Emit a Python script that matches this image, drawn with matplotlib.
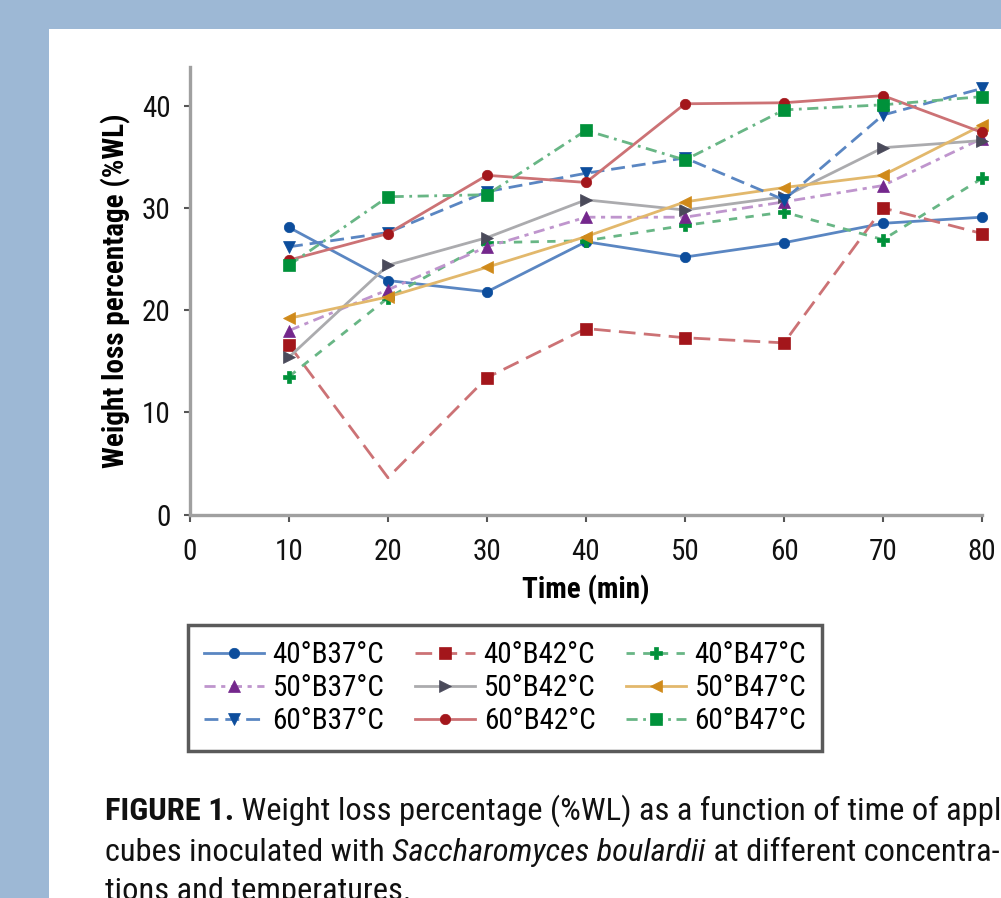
import matplotlib
matplotlib.use("Agg")
import matplotlib.pyplot as plt
from matplotlib.patches import Rectangle
from matplotlib import font_manager as fm

time_min = [10, 20, 30, 40, 50, 60, 70, 80]
x_ticks = [0, 10, 20, 30, 40, 50, 60, 70, 80]
y_ticks = [0, 10, 20, 30, 40]

s40B37 = [28.1, 22.9, 21.8, 26.7, 25.2, 26.6, 28.5, 29.1]
s40B42 = [16.6, 3.6, 13.4, 18.2, 17.3, 16.8, 30.0, 27.5]
s40B47 = [13.5, 21.2, 26.6, 26.8, 28.3, 29.6, 26.9, 32.9]
s50B37 = [18.0, 22.0, 26.2, 29.1, 29.1, 30.6, 32.2, 36.8]
s50B42 = [15.4, 24.4, 27.1, 30.8, 29.8, 31.1, 35.9, 36.6]
s50B47 = [19.2, 21.3, 24.2, 27.2, 30.6, 32.0, 33.2, 38.1]
s60B37 = [26.2, 27.6, 31.6, 33.4, 34.9, 30.8, 39.1, 41.7]
s60B42 = [24.9, 27.5, 33.2, 32.5, 40.2, 40.3, 41.0, 37.4]
s60B47 = [24.4, 31.1, 31.3, 37.6, 34.7, 39.6, 40.1, 40.9]

labels = ["40°B37°C", "40°B42°C", "40°B47°C",
          "50°B37°C", "50°B42°C", "50°B47°C",
          "60°B37°C", "60°B42°C", "60°B47°C"]

# ---- pick a narrow / condensed sans font if one is installed ----
entries = fm.fontManager.ttflist
names = {f.name for f in entries}
fam, stretch, narrow = None, 'normal', False
for cand in ["Liberation Sans Narrow", "Arial Narrow", "Roboto Condensed",
             "Open Sans Condensed", "Noto Sans Condensed", "DejaVu Sans Condensed"]:
    if cand in names:
        fam, narrow = cand, True
        break
if fam is None:
    for f in entries:
        fn = f.fname.lower()
        if (('condensed' in fn or 'narrow' in fn) and 'mono' not in fn and 'serif' not in fn
                and f.name in ("DejaVu Sans", "Noto Sans", "Roboto", "Open Sans", "Inter")):
            fam, stretch, narrow = f.name, f.stretch, True
            break
if fam is None:
    fam = "Liberation Sans" if "Liberation Sans" in names else "DejaVu Sans"
plt.rcParams['font.family'] = [fam, "DejaVu Sans"]
plt.rcParams['font.stretch'] = stretch

scale = 1.0 if narrow else 0.84

W, H = 1001, 898
fig = plt.figure(figsize=(W / 100, H / 100), dpi=100)
fig.patch.set_facecolor('#9db8d5')
fig.patches.append(Rectangle((49 / W, 0), 1, (H - 29) / H, transform=fig.transFigure,
                             facecolor='white', edgecolor='none', zorder=-5))

ax_l, ax_r = 190 / W, 982 / W
ax_b, ax_t = (H - 514.5) / H, (H - 67) / H
ax = fig.add_axes([ax_l, ax_b, ax_r - ax_l, ax_t - ax_b])
ax.set_facecolor('none')
ax.set_zorder(2)

BLUE_M, BLUE_L = '#0c4d9c', '#5a86c2'
RED_M, RED_L = '#a3161b', '#cc7275'
GRN_M, GRN_L = '#00913a', '#68b685'
PUR_M, PUR_L = '#74278c', '#bf95cd'
GRY_M, GRY_L = '#4a4a5a', '#ababae'
ORG_M, ORG_L = '#d08a1a', '#e2b86c'

series = [
    (s40B37, BLUE_L, BLUE_M, '-', 'o', 7.5, None),
    (s40B42, RED_L, RED_M, (0, (6, 3)), 's', 8.5, [0, 2, 3, 4, 5, 6, 7]),
    (s40B47, GRN_L, GRN_M, (0, (3, 3)), 'P', 9, None),
    (s50B37, PUR_L, PUR_M, (0, (4, 2, 1.5, 2)), '^', 8.5, None),
    (s50B42, GRY_L, GRY_M, '-', '>', 8.5, None),
    (s50B47, ORG_L, ORG_M, '-', '<', 8.5, None),
    (s60B37, BLUE_L, BLUE_M, (0, (5, 2.5)), 'v', 8.5, None),
    (s60B42, RED_L, RED_M, '-', 'o', 7.5, None),
    (s60B47, GRN_L, GRN_M, (0, (4, 2, 1, 2)), 's', 8.5, None),
]

handles = []
for (vals, lc, mc, ls, mk, ms, me), lab in zip(series, labels):
    h, = ax.plot(time_min, vals, color=lc, linestyle=ls, linewidth=2.0,
                 marker=mk, markersize=ms, markerfacecolor=mc, markeredgecolor=mc,
                 markeredgewidth=0.5, markevery=me, label=lab, clip_on=False)
    handles.append(h)

ax.set_xlim(0, 80)
ax.set_ylim(0, 43.8)
ax.set_xticks(x_ticks)
ax.set_yticks(y_ticks)
FS = 21 * scale
ax.tick_params(axis='both', labelsize=FS, color='#555555', width=1.5, length=5,
               direction='out', labelcolor='#111111')
ax.tick_params(axis='x', pad=12)
ax.tick_params(axis='y', pad=10, length=4)
for side in ['top', 'right']:
    ax.spines[side].set_visible(False)
for side in ['left', 'bottom']:
    ax.spines[side].set_color('#a0a0a0')
    ax.spines[side].set_linewidth(2.4)

ax.set_xlabel("Time (min)", fontsize=FS, fontweight='bold', labelpad=6.5)
ax.set_ylabel("Weight loss percentage (%WL)", fontsize=FS, fontweight='bold')
ax.yaxis.set_label_coords(-(190 - 131) / ((ax_r - ax_l) * W), 0.5)

order = [0, 3, 6, 1, 4, 7, 2, 5, 8]
leg = fig.legend([handles[i] for i in order], [labels[i] for i in order],
                 ncol=3, loc='upper left', bbox_to_anchor=(188 / W, (H - 625) / H),
                 bbox_transform=fig.transFigure, borderaxespad=0,
                 fontsize=FS, handlelength=2.05 / scale, handletextpad=0.3, columnspacing=1.05 / scale,
                 labelspacing=0.17 / scale, borderpad=0.55 / scale, fancybox=False, framealpha=1)
leg.get_frame().set_edgecolor('#5a5a5a')
leg.get_frame().set_linewidth(2.5)

# caption
CFS = 23.4 * scale
renderer = fig.canvas.get_renderer()


def put(x_px, y_px, text, **kw):
    t = fig.text(x_px / W, 1 - y_px / H, text, fontsize=CFS, va='baseline', ha='left',
                 color='#111111', **kw)
    bb = t.get_window_extent(renderer=renderer)
    return bb.x1


x0 = 105
b1, b2, b3 = 820, 861, 900
x = put(x0, b1, "FIGURE 1.", fontweight='bold')
put(x, b1, " Weight loss percentage (%WL) as a function of time of application to apple")
x = put(x0, b2, "cubes inoculated with ")
x = put(x, b2, "Saccharomyces boulardii", style='italic')
put(x, b2, " at different concentra-")
put(x0, b3, "tions and temperatures.")

fig.savefig("out.png", dpi=100, facecolor=fig.get_facecolor())
